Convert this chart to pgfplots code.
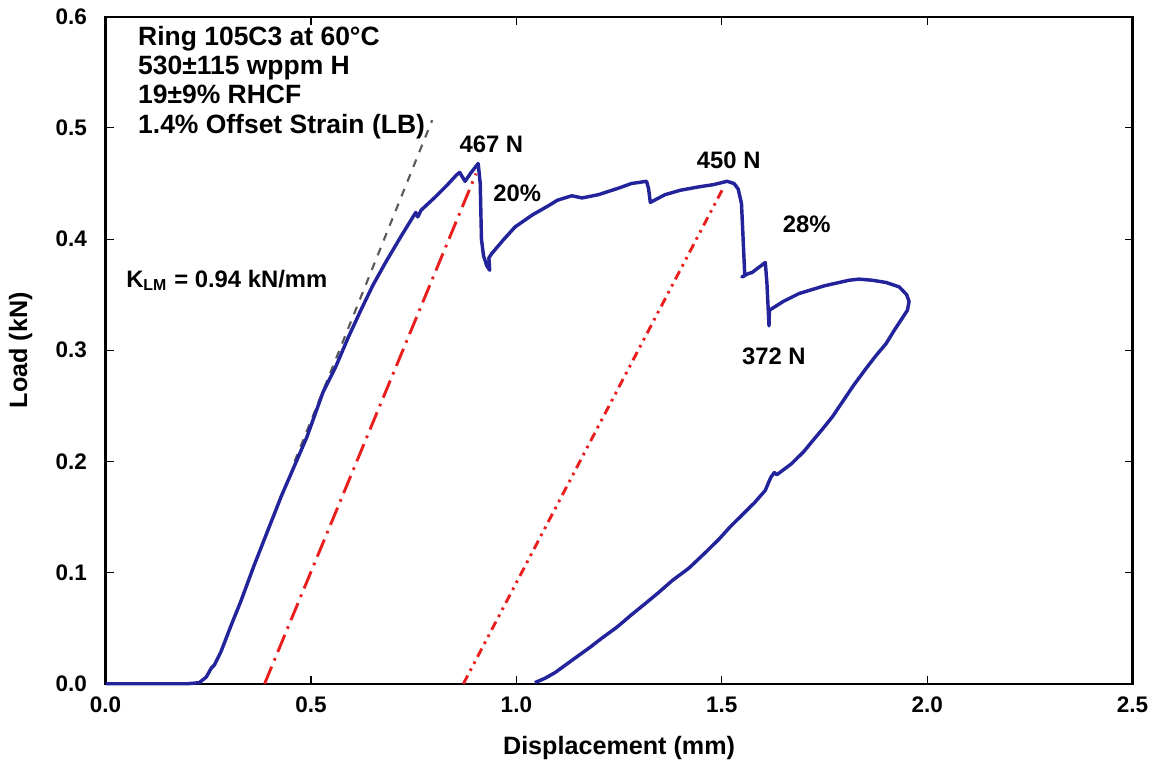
\documentclass[border=0pt]{standalone}
\usepackage{pgfplots}
\pgfplotsset{compat=1.18}
\usepackage{fontspec}
\setmainfont{Liberation Sans}
\setsansfont{Liberation Sans}
\definecolor{curveblue}{RGB}{35,35,155}
\definecolor{offred}{RGB}{235,30,30}

\begin{document}
\begin{tikzpicture}
\begin{axis}[
  scale only axis,
  width=388pt,
  height=252pt,
  xmin=0, xmax=2.5,
  ymin=0, ymax=0.6,
  xtick={0,0.5,...,2.5},
  ytick={0,0.1,...,0.6},
  tick align=inside,
  major tick length=3pt,
  tick style={black, thin},
  axis line style={black, line width=0.9pt},
  xticklabel style={yshift=-1.5pt, /pgf/number format/.cd, fixed, fixed zerofill, precision=1},
  yticklabel style={xshift=-3.5pt, /pgf/number format/.cd, fixed, fixed zerofill, precision=1},
  /pgf/number format/assume math mode=true,
  ticklabel style={font=\bfseries\fontsize{8.5}{10}\selectfont},
  xlabel={Displacement (mm)},
  ylabel={Load (kN)},
  label style={font=\bfseries\fontsize{9.5}{11}\selectfont},
  xlabel style={yshift=-2pt},
  ylabel style={yshift=2pt},
  clip=false,
]
% elastic slope
\addplot[gray!70!black, dashed, line width=0.8pt] coordinates {(0.46,0.200) (0.795,0.507)};
% 1.4% offset lines
\addplot[offred, line width=1.1pt, dash pattern=on 7pt off 2.5pt on 1pt off 2.5pt] coordinates {(0.387,0) (0.902,0.459)};
\addplot[offred, line width=1.1pt, dash pattern=on 3.5pt off 2pt on 1pt off 2pt on 1pt off 2pt] coordinates {(0.871,0) (1.505,0.447)};
% load-displacement curve
\addplot[curveblue, line width=1.3pt, line join=round] coordinates {
(0,0) (0.1,0) (0.2,0) (0.228,0.001) (0.245,0.006) (0.257,0.014) (0.265,0.017)
(0.281,0.029) (0.305,0.052) (0.330,0.075) (0.360,0.105) (0.395,0.138) (0.428,0.169)
(0.455,0.192) (0.49,0.222) (0.529,0.262) (0.56,0.285) (0.590,0.311) (0.62,0.335)
(0.65,0.358) (0.68,0.378) (0.72,0.403) (0.745,0.418) (0.755,0.424) (0.760,0.420)
(0.768,0.426) (0.80,0.437) (0.83,0.448) (0.855,0.458) (0.862,0.460) (0.875,0.452)
(0.89,0.460) (0.907,0.468) (0.912,0.450) (0.915,0.400) (0.920,0.385) (0.928,0.376)
(0.935,0.372) (0.933,0.383) (0.940,0.387) (0.97,0.400) (0.997,0.411) (1.04,0.422)
(1.078,0.430) (1.10,0.435) (1.135,0.439) (1.16,0.437) (1.20,0.440) (1.25,0.446)
(1.28,0.450) (1.317,0.452) (1.322,0.445) (1.326,0.433) (1.362,0.440) (1.40,0.444)
(1.444,0.447) (1.48,0.449) (1.513,0.452) (1.530,0.450) (1.540,0.445) (1.548,0.432)
(1.552,0.400) (1.556,0.367) (1.549,0.366) (1.565,0.369) (1.574,0.370) (1.606,0.379)
(1.610,0.360) (1.615,0.322) (1.616,0.336) (1.65,0.344) (1.688,0.351) (1.75,0.358)
(1.81,0.363) (1.834,0.364) (1.866,0.363) (1.90,0.361) (1.932,0.357) (1.950,0.350)
(1.956,0.344) (1.952,0.336) (1.92,0.318) (1.90,0.306) (1.875,0.295) (1.85,0.283)
(1.82,0.268) (1.80,0.257) (1.769,0.240) (1.745,0.229) (1.72,0.218) (1.70,0.209)
(1.67,0.198) (1.634,0.188) (1.628,0.190) (1.620,0.186) (1.615,0.182) (1.606,0.174)
(1.58,0.163) (1.55,0.152) (1.52,0.141) (1.493,0.130) (1.46,0.118) (1.42,0.104)
(1.38,0.093) (1.346,0.082) (1.31,0.071) (1.28,0.062) (1.245,0.051) (1.208,0.041)
(1.18,0.033) (1.15,0.025) (1.12,0.017) (1.094,0.010) (1.07,0.005) (1.045,0.001)
};
% annotations
\node[anchor=west, align=left, font=\bfseries\fontsize{10}{11.1}\selectfont, inner sep=0pt]
  at (axis cs:0.078,0.541) {Ring 105C3 at 60°C\\530±115 wppm H\\19±9\% RHCF\\1.4\% Offset Strain (LB)};
\node[font=\bfseries\fontsize{9}{10}\selectfont] at (axis cs:0.939,0.485) {467 N};
\node[font=\bfseries\fontsize{9}{10}\selectfont] at (axis cs:1.002,0.441) {20\%};
\node[font=\bfseries\fontsize{9}{10}\selectfont] at (axis cs:1.517,0.471) {450 N};
\node[font=\bfseries\fontsize{9}{10}\selectfont] at (axis cs:1.707,0.413) {28\%};
\node[font=\bfseries\fontsize{9}{10}\selectfont] at (axis cs:1.627,0.295) {372 N};
\node[anchor=west, font=\bfseries\fontsize{9}{10}\selectfont, inner sep=0pt] at (axis cs:0.049,0.363) {K\textsubscript{LM} = 0.94 kN/mm};
\end{axis}
\end{tikzpicture}
\end{document}
